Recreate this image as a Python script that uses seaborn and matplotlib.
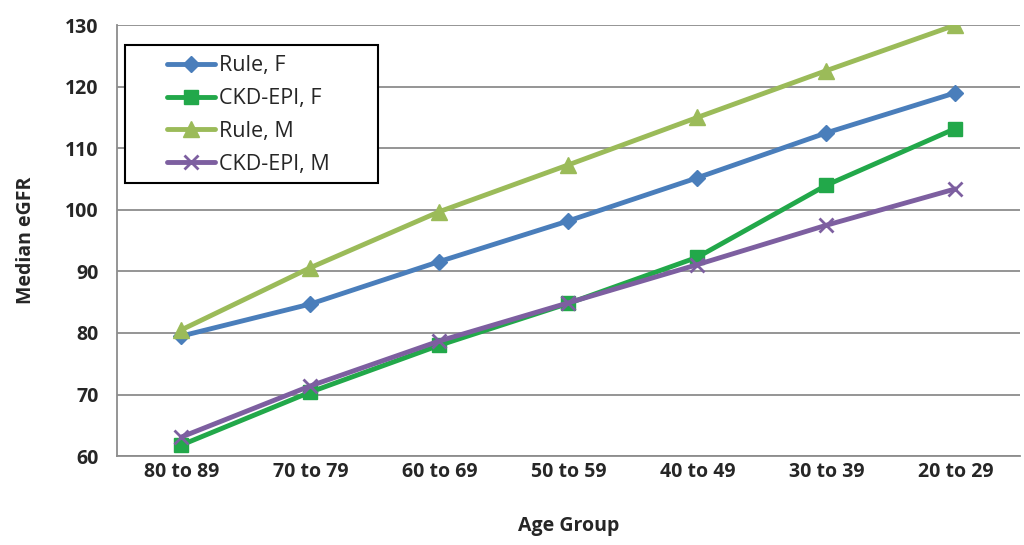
import numpy as np
import pandas as pd
import matplotlib
matplotlib.use("Agg")
import matplotlib.pyplot as plt
from matplotlib.patches import Rectangle
import seaborn as sns

age_groups = ["80 to 89", "70 to 79", "60 to 69", "50 to 59", "40 to 49", "30 to 39", "20 to 29"]
rule_f = [79.5, 84.7, 91.6, 98.2, 105.2, 112.5, 119.0]
ckd_f = [61.8, 70.4, 78.0, 84.8, 92.3, 104.0, 113.2]
rule_m = [80.5, 90.6, 99.7, 107.3, 115.0, 122.6, 130.0]
ckd_m = [63.1, 71.4, 78.7, 84.9, 91.1, 97.5, 103.4]

series_names = ["Rule, F", "CKD-EPI, F", "Rule, M", "CKD-EPI, M"]
series_vals = [rule_f, ckd_f, rule_m, ckd_m]
colors = ["#4A7EBB", "#22A84A", "#9BBB59", "#7D5FA0"]
markers = ["D", "s", "^", "x"]
msizes = [8, 10, 11, 10]

rows = []
for name, vals in zip(series_names, series_vals):
    for g, v in zip(age_groups, vals):
        rows.append({"Age Group": g, "Median eGFR": v, "Series": name})
df = pd.DataFrame(rows)

sns.set_style("white")
plt.rcParams["font.family"] = ["Open Sans", "DejaVu Sans"]

fig = plt.figure(figsize=(10.24, 5.45), dpi=100)
ax = fig.add_axes([0.114, 0.163, 0.882, 0.791])

for name, c, m, ms in zip(series_names, colors, markers, msizes):
    sub = df[df["Series"] == name]
    sns.lineplot(data=sub, x="Age Group", y="Median eGFR", ax=ax, color=c,
                 marker=m, markersize=ms, markeredgecolor=c, markeredgewidth=2 if m == "x" else 1,
                 linewidth=3.5, label=name, sort=False)

ax.set_ylim(60, 130)
ax.set_yticks(range(60, 131, 10))
ax.set_xlim(-0.5, len(age_groups) - 0.5)
ax.yaxis.grid(True, color="#8c8c8c", linewidth=1.3)
ax.set_axisbelow(True)

for s in ["top", "right"]:
    ax.spines[s].set_visible(False)
for s in ["left", "bottom"]:
    ax.spines[s].set_color("#8c8c8c")
    ax.spines[s].set_linewidth(1.3)

ax.set_xticks(np.arange(len(age_groups) + 1) - 0.5, minor=True)
ax.tick_params(axis="x", which="major", length=0, pad=4, labelsize=14)
ax.tick_params(axis="x", which="minor", length=8, width=1.3, color="#8c8c8c", direction="out")
ax.tick_params(axis="y", length=8, width=1.3, color="#8c8c8c", direction="out", labelsize=14, pad=5)
for lab in ax.get_xticklabels() + ax.get_yticklabels():
    lab.set_fontweight("bold")

ax.set_xlabel("Age Group", fontsize=14, fontweight="bold", labelpad=25)
ax.set_ylabel("Median eGFR", fontsize=14, fontweight="bold", labelpad=21)

# legend box drawn separately so the inner padding can match the original
leg = ax.legend(loc="upper left", bbox_to_anchor=(0.056, 0.93), fontsize=15.5, frameon=False,
                handlelength=2.2, handletextpad=0.2, borderpad=0, borderaxespad=0,
                labelspacing=0.55)
ax.add_patch(Rectangle((0.009, 0.633), 0.28, 0.321, transform=ax.transAxes,
                       facecolor="white", edgecolor="black", linewidth=1.5, zorder=4))
leg.set_zorder(5)

fig.savefig("out.png", dpi=100)
